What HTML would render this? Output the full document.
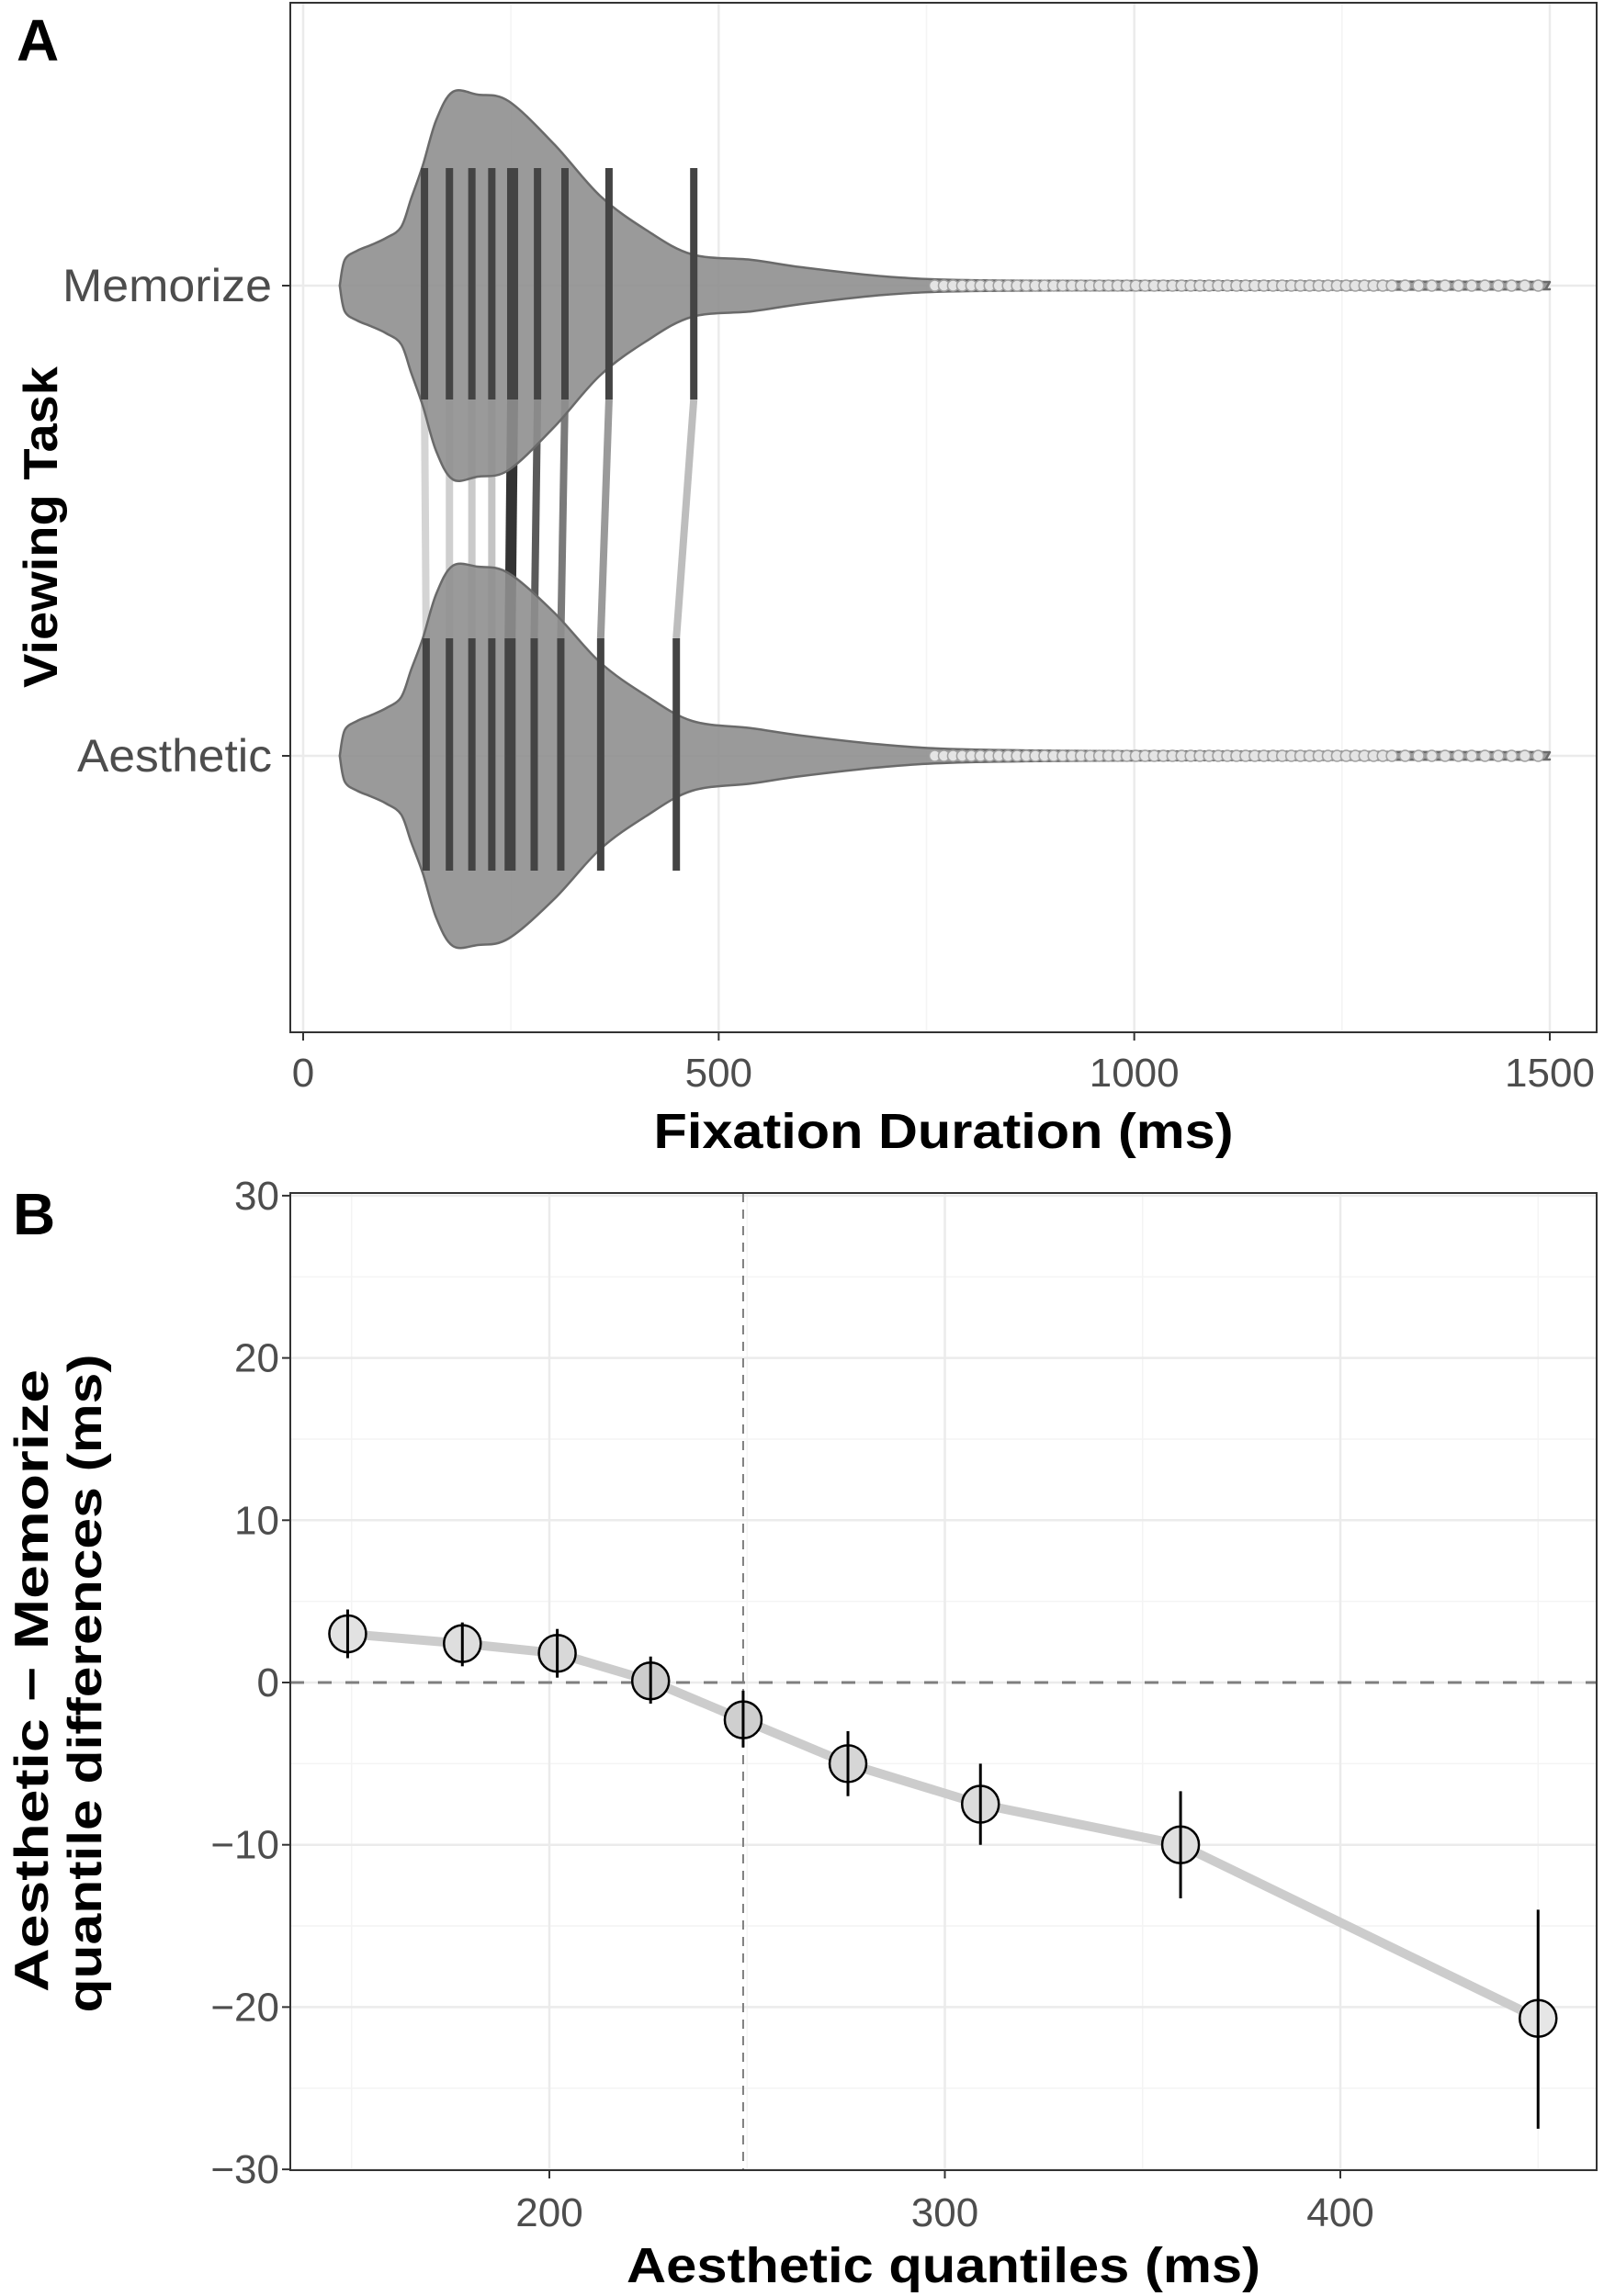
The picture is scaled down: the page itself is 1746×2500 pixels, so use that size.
<!DOCTYPE html>
<html><head><meta charset="utf-8"><style>
html,body{margin:0;padding:0;background:#fff}
svg{display:block}
text{font-family:"Liberation Sans",sans-serif}
</style></head><body>
<svg id="chart" width="1746" height="2500" viewBox="0 0 1746 2500" xmlns="http://www.w3.org/2000/svg">
<g id="pa"></g>
<g id="pb"></g>
</svg>
<script>
// ---------- Panel A data ----------
const densMs = [44,50,65,81,100,118,130,144,160,180,210,247,302,357,412,468,540,600,700,800,1000,1500];
const densMem = [0,28,38,44,52,64,95,131,180,211,208,201,154,98,61,34,28,20,10,6,5,4];
const densAes = [0,28,38,44,52,64,94,128,176,207,206,199,156,102,66,38,30,22,12,7,5,4];
const qMem = [146,176,203,227,252,282,315,368,470];
const qAes = [148,176,203,227,249,278,310,358,449];
const connColors = ['#d4d4d4','#cfcfcf','#cacaca','#c4c4c4','#333333','#5a5a5a','#7a7a7a','#9a9a9a','#bdbdbd'];
const xTicksA = [0,500,1000,1500];
const catsA = ['Memorize','Aesthetic'];
// ---------- Panel B data ----------
const qx = [149,178,202,225.6,249,275.5,309,359.6,450];
const qd = [3.0,2.4,1.8,0.1,-2.3,-5.0,-7.5,-10.0,-20.7];
const ciLo = [1.5,1.0,0.3,-1.3,-4.0,-7.0,-10.0,-13.3,-27.5];
const ciHi = [4.5,3.7,3.3,1.6,-0.5,-3.0,-5.0,-6.7,-14.0];
const ptFill = ['#e2e2e2','#dedede','#d8d8d8','#cccccc','#cfcfcf','#d6d6d6','#dcdcdc','#e0e0e0','#e6e6e6'];
const xTicksB = [200,300,400];
const yTicksB = [30,20,10,0,-10,-20,-30];

const NS='http://www.w3.org/2000/svg';
function mk(parent,tag,attrs,txt){const e=document.createElementNS(NS,tag);for(const k in attrs)e.setAttribute(k,attrs[k]);if(txt!==undefined)e.textContent=txt;parent.appendChild(e);return e;}

// ===== Panel A =====
const pa=document.getElementById('pa');
const A={l:316,r:1738,t:3,b:1124};
const xA=v=>330+v*(1687-330)/1500;
const yCat=[311,823];
mk(pa,'rect',{x:A.l,y:A.t,width:A.r-A.l,height:A.b-A.t,fill:'#fff'});
[250,750,1250].forEach(v=>{const l=mk(pa,'line',{x1:xA(v),x2:xA(v),y1:A.t,y2:A.b,stroke:'#f4f4f4','stroke-width':1.5});});
xTicksA.forEach(v=>{const l=mk(pa,'line',{x1:xA(v),x2:xA(v),y1:A.t,y2:A.b,stroke:'#ebebeb','stroke-width':2.5});});
yCat.forEach(y=>{const l=mk(pa,'line',{x1:A.l,x2:A.r,y1:y,y2:y,stroke:'#ebebeb','stroke-width':2.5});});

const segM=[183,435], segA=[695,948];
qMem.forEach((v,i)=>{
  const l=mk(pa,'line',{x1:xA(v),x2:xA(qAes[i]),y1:segM[1],y2:segA[0],stroke:connColors[i],'stroke-width':i===4?12:8});
  
});

function violin(dens,cy,name){
  const ptsT=densMs.map((m,i)=>[xA(m),cy-dens[i]]);
  const ptsB=densMs.map((m,i)=>[xA(m),cy+dens[i]]).reverse();
  function smooth(p){let d='';for(let i=0;i<p.length;i++){if(i===0){d+=`L${p[0][0]},${p[0][1]}`;continue;}const p0=p[Math.max(i-2,0)],p1=p[i-1],p2=p[i],p3=p[Math.min(i+1,p.length-1)];const c1=[p1[0]+(p2[0]-p0[0])/6,p1[1]+(p2[1]-p0[1])/6],c2=[p2[0]-(p3[0]-p1[0])/6,p2[1]-(p3[1]-p1[1])/6];d+=`C${c1[0]},${c1[1]} ${c2[0]},${c2[1]} ${p2[0]},${p2[1]}`;}return d;}
  const d='M'+xA(densMs[0])+','+cy+smooth(ptsT).replace(/^L[^C]*/,'')+'L'+xA(1495)+','+(cy+4)+smooth(ptsB)+'Z';
  const p=mk(pa,'path',{d:d,fill:'#8f8f8f','fill-opacity':0.9,stroke:'#6a6a6a','stroke-width':2.5,'stroke-linejoin':'round'});
  
  const g=mk(pa,'g',{});
  for(let v=760;v<=1492;v+=(v<1300?11:16)){mk(g,'circle',{cx:xA(v),cy:cy,r:6,fill:'#e4e4e4',stroke:'#a0a0a0','stroke-width':1.5});}
}
violin(densMem,yCat[0],'violin-memorize');
violin(densAes,yCat[1],'violin-aesthetic');

qMem.forEach((v,i)=>{const l=mk(pa,'line',{x1:xA(v),x2:xA(v),y1:segM[0],y2:segM[1],stroke:'#444','stroke-width':i===4?12:8});});
qAes.forEach((v,i)=>{const l=mk(pa,'line',{x1:xA(v),x2:xA(v),y1:segA[0],y2:segA[1],stroke:'#444','stroke-width':i===4?12:8});});
mk(pa,'rect',{x:A.l,y:A.t,width:A.r-A.l,height:A.b-A.t,fill:'none',stroke:'#333','stroke-width':2});
xTicksA.forEach(v=>{mk(pa,'line',{x1:xA(v),x2:xA(v),y1:A.b,y2:A.b+9,stroke:'#333','stroke-width':2});const t=mk(pa,'text',{x:xA(v),y:1183,'text-anchor':'middle','font-size':44,fill:'#4d4d4d'},v);});
catsA.forEach((c,i)=>{mk(pa,'line',{x1:A.l-9,x2:A.l,y1:yCat[i],y2:yCat[i],stroke:'#333','stroke-width':2});const t=mk(pa,'text',{x:296,y:yCat[i]+17,'text-anchor':'end','font-size':50,fill:'#4d4d4d',textLength:i===0?228:212,lengthAdjust:'spacingAndGlyphs'},c);});
(function(){let t=mk(pa,'text',{x:1027,y:1250,'text-anchor':'middle','font-size':54,'font-weight':'bold',fill:'#000',textLength:631,lengthAdjust:'spacingAndGlyphs'},'Fixation Duration (ms)');
t=mk(pa,'text',{x:0,y:0,transform:'translate(62,574) rotate(-90)','text-anchor':'middle','font-size':52,'font-weight':'bold',fill:'#000',textLength:350,lengthAdjust:'spacingAndGlyphs'},'Viewing Task');
t=mk(pa,'text',{x:18,y:66,'font-size':64,'font-weight':'bold',fill:'#000'},'A');})();

// ===== Panel B =====
const pb=document.getElementById('pb');
const B={l:316,r:1738,t:1299,b:2363};
const xB=v=>598+(v-200)*(1459-598)/200;
const yB=v=>1832-v*176.7/10;
[150,250,350,450].forEach(v=>{const l=mk(pb,'line',{x1:xB(v),x2:xB(v),y1:B.t,y2:B.b,stroke:'#f4f4f4','stroke-width':1.5});});
[25,15,5,-5,-15,-25].forEach(v=>{const l=mk(pb,'line',{x1:B.l,x2:B.r,y1:yB(v),y2:yB(v),stroke:'#f4f4f4','stroke-width':1.5});});
xTicksB.forEach(v=>{const l=mk(pb,'line',{x1:xB(v),x2:xB(v),y1:B.t,y2:B.b,stroke:'#ebebeb','stroke-width':2.5});});
yTicksB.forEach(v=>{const l=mk(pb,'line',{x1:B.l,x2:B.r,y1:yB(v),y2:yB(v),stroke:'#ebebeb','stroke-width':2.5});});
(function(){let l=mk(pb,'line',{x1:B.l,x2:B.r,y1:yB(0),y2:yB(0),stroke:'#7f7f7f','stroke-width':3,'stroke-dasharray':'15 15'});
l=mk(pb,'line',{x1:xB(qx[4]),x2:xB(qx[4]),y1:B.t,y2:B.b,stroke:'#7f7f7f','stroke-width':2,'stroke-dasharray':'10 8'});})();
const pl=mk(pb,'polyline',{points:qx.map((v,i)=>xB(v)+','+yB(qd[i])).join(' '),fill:'none',stroke:'#cccccc','stroke-width':10,'stroke-linejoin':'round'});

qx.forEach((v,i)=>{
  const c=mk(pb,'circle',{cx:xB(v),cy:yB(qd[i]),r:20,fill:ptFill[i],stroke:'#000','stroke-width':2.5});
  
  const e=mk(pb,'line',{x1:xB(v),x2:xB(v),y1:yB(ciHi[i]),y2:yB(ciLo[i]),stroke:'#000','stroke-width':3});
  
});
mk(pb,'rect',{x:B.l,y:B.t,width:B.r-B.l,height:B.b-B.t,fill:'none',stroke:'#333','stroke-width':2});
xTicksB.forEach(v=>{mk(pb,'line',{x1:xB(v),x2:xB(v),y1:B.b,y2:B.b+9,stroke:'#333','stroke-width':2});const t=mk(pb,'text',{x:xB(v),y:2424,'text-anchor':'middle','font-size':44,fill:'#4d4d4d'},v);});
yTicksB.forEach(v=>{mk(pb,'line',{x1:B.l-9,x2:B.l,y1:yB(v),y2:yB(v),stroke:'#333','stroke-width':2});const t=mk(pb,'text',{x:304,y:yB(v)+15,'text-anchor':'end','font-size':44,fill:'#4d4d4d'},v<0?'\u2212'+(-v):v);});
(function(){let t=mk(pb,'text',{x:1027,y:2485,'text-anchor':'middle','font-size':54,'font-weight':'bold',fill:'#000',textLength:690,lengthAdjust:'spacingAndGlyphs'},'Aesthetic quantiles (ms)');
t=mk(pb,'text',{x:0,y:0,transform:'translate(52,1830) rotate(-90)','text-anchor':'middle','font-size':52,'font-weight':'bold',fill:'#000',textLength:678,lengthAdjust:'spacingAndGlyphs'},'Aesthetic \u2212 Memorize');
t=mk(pb,'text',{x:0,y:0,transform:'translate(110,1833) rotate(-90)','text-anchor':'middle','font-size':52,'font-weight':'bold',fill:'#000',textLength:717,lengthAdjust:'spacingAndGlyphs'},'quantile differences (ms)');
t=mk(pb,'text',{x:14,y:1344,'font-size':64,'font-weight':'bold',fill:'#000'},'B');})();
</script>
</body></html>
